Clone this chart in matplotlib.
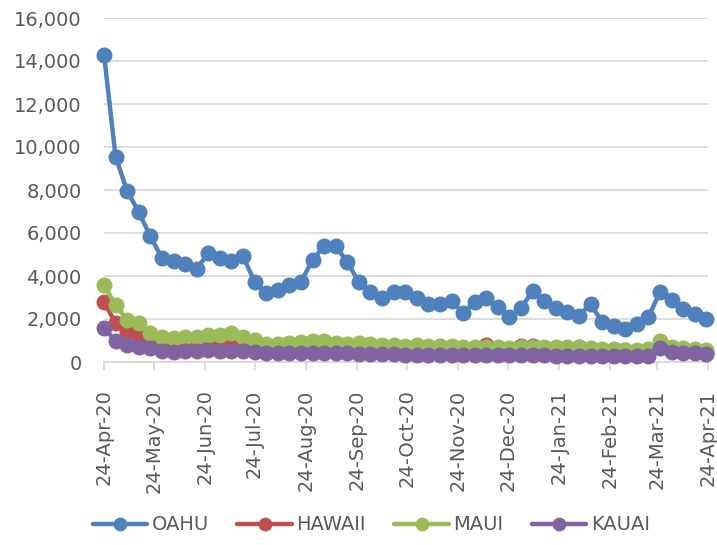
import matplotlib
matplotlib.use("Agg")
import matplotlib.pyplot as plt
import matplotlib.dates as mdates
import matplotlib.ticker as mticker
import pandas as pd

# weekly counts per island, 24-Apr-20 .. 24-Apr-21
dates = pd.date_range("2020-04-24", periods=53, freq="7D")

oahu = [14300, 9550, 7950, 6980, 5840, 4840, 4690, 4540, 4330, 5070,
        4840, 4700, 4930, 3720, 3210, 3330, 3580, 3720, 4740, 5400,
        5400, 4650, 3720, 3240, 3000, 3260, 3250, 2980, 2700, 2700,
        2840, 2280, 2790, 2980, 2560, 2090, 2510, 3300, 2840, 2510,
        2330, 2140, 2700, 1860, 1670, 1530, 1770, 2090, 3260, 2880,
        2470, 2230, 2000]
hawaii = [2790, 1810, 1400, 1260, 900, 750, 680, 650, 680, 720,
          760, 930, 700, 600, 520, 500, 520, 560, 560, 600,
          560, 540, 520, 520, 520, 540, 540, 560, 520, 500,
          480, 470, 560, 780, 560, 580, 740, 760, 560, 520,
          500, 720, 470, 420, 380, 560, 380, 420, 700, 560,
          520, 480, 440]
maui = [3580, 2650, 1950, 1810, 1350, 1160, 1100, 1160, 1180, 1260,
        1240, 1350, 1160, 1020, 840, 860, 900, 920, 960, 960,
        900, 860, 900, 820, 780, 780, 760, 780, 740, 740,
        760, 700, 680, 700, 680, 660, 700, 720, 700, 680,
        700, 680, 660, 620, 600, 560, 580, 620, 980, 700,
        640, 600, 560]
kauai = [1580, 980, 790, 700, 650, 510, 480, 500, 520, 540,
         520, 500, 500, 480, 420, 400, 420, 420, 420, 440,
         420, 400, 380, 380, 360, 360, 340, 340, 330, 330,
         330, 320, 330, 340, 330, 320, 340, 340, 330, 300,
         300, 290, 290, 280, 280, 260, 270, 300, 650, 480,
         420, 400, 370]

series = [("OAHU", oahu, "#4F81BD"),
          ("HAWAII", hawaii, "#C0504D"),
          ("MAUI", maui, "#9BBB59"),
          ("KAUAI", kauai, "#8064A2")]

fig = plt.figure(figsize=(7.17, 5.45), dpi=100)
ax = fig.add_axes([104 / 717, 1 - 362 / 545, (708 - 104) / 717, (362 - 18) / 545])

for name, vals, col in series:
    ax.plot(dates, vals, color=col, lw=3.2, marker="o", ms=10.5, label=name,
            solid_capstyle="round", clip_on=False, zorder=3)

ax.set_ylim(0, 16000)
ax.set_xlim(pd.Timestamp("2020-04-24"), pd.Timestamp("2021-04-24"))
ax.yaxis.set_major_locator(mticker.MultipleLocator(2000))
ax.yaxis.set_major_formatter(mticker.StrMethodFormatter("{x:,.0f}"))
ax.xaxis.set_major_locator(mdates.MonthLocator(bymonthday=24))
ax.xaxis.set_major_formatter(mdates.DateFormatter("%d-%b-%y"))

ax.grid(axis="y", color="#d9d9d9", lw=1.3)
ax.set_axisbelow(True)
for s in ["top", "right", "left"]:
    ax.spines[s].set_visible(False)
ax.spines["bottom"].set_color("#d9d9d9")
ax.spines["bottom"].set_linewidth(1.3)

ax.tick_params(axis="y", length=0, pad=16, labelsize=14, labelcolor="#595959")
ax.tick_params(axis="x", length=5.8, width=1.3, color="#d9d9d9", pad=14,
               labelsize=14, labelcolor="#595959", labelrotation=90)

leg = fig.legend(loc="center", bbox_to_anchor=(0.518, 1 - 525 / 545), ncol=4,
                 frameon=False, fontsize=14, handlelength=2.8, markerscale=0.85,
                 columnspacing=1.45, handletextpad=0.25)
for t in leg.get_texts():
    t.set_color("#595959")

fig.savefig("out.png", dpi=100)
